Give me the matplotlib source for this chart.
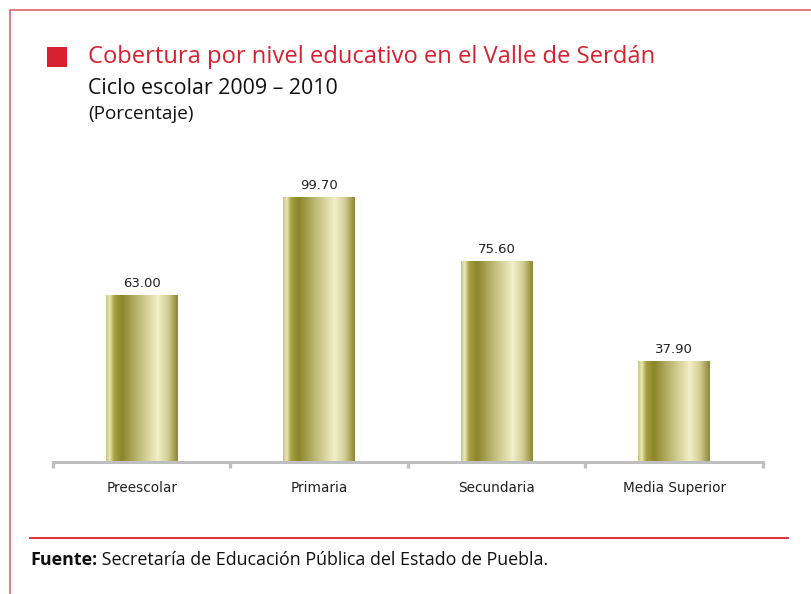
import matplotlib
matplotlib.use("Agg")
import matplotlib.pyplot as plt
import numpy as np
from matplotlib.colors import LinearSegmentedColormap
from matplotlib.patches import Rectangle
from matplotlib.lines import Line2D

categories = ["Preescolar", "Primaria", "Secundaria", "Media Superior"]
values = [63.00, 99.70, 75.60, 37.90]
value_labels = ["63.00", "99.70", "75.60", "37.90"]

title = "Cobertura por nivel educativo en el Valle de Serdán"
subtitle = "Ciclo escolar 2009 – 2010"
unit = "(Porcentaje)"
source_bold = "Fuente:"
source_text = " Secretaría de Educación Pública del Estado de Puebla."

RED = "#d7212f"
GOLD = LinearSegmentedColormap.from_list("gold", [
    (0.00, "#c4c27a"),
    (0.05, "#ecebbc"),
    (0.11, "#a7a244"),
    (0.22, "#8b8529"),
    (0.45, "#bdb975"),
    (0.72, "#f3efc8"),
    (0.86, "#d3ce96"),
    (1.00, "#8c8731"),
])

W, H = 812, 594
fig = plt.figure(figsize=(W / 100, H / 100), dpi=100)

def px(x, y):
    return x / W, 1 - y / H

# page frame
fig.add_artist(Rectangle(px(10, 600), (W + 20) / W, 590 / H, transform=fig.transFigure,
                         fill=False, edgecolor="#e06470", linewidth=1.2))

# title block
sq_x, sq_y = px(47, 67)
fig.add_artist(Rectangle((sq_x, sq_y), 20 / W, 20 / H, transform=fig.transFigure,
                         facecolor=RED, edgecolor="none"))
fig.text(*px(88, 57), title, color=RED, fontsize=17.1, family="Open Sans", va="center", ha="left")
fig.text(*px(88, 88), subtitle, color="#111111", fontsize=15.4, family="Open Sans", va="center", ha="left")
fig.text(*px(88, 114), unit, color="#111111", fontsize=13.6, family="Open Sans", va="center", ha="left")

# bar chart
ax = fig.add_axes([53 / W, 1 - 462 / H, 710 / W, 265 / H])
x = np.arange(len(categories))
bars = ax.bar(x, values, width=0.405, color="none", edgecolor="none", zorder=2)

grad = np.linspace(0, 1, 256).reshape(1, -1)
for b, lab in zip(bars, value_labels):
    x0, y0 = b.get_x(), b.get_y()
    ax.imshow(grad, cmap=GOLD, aspect="auto", interpolation="bicubic",
              extent=(x0, x0 + b.get_width(), y0, y0 + b.get_height()), zorder=2)
    ax.text(x0 + b.get_width() / 2, b.get_height() + 4.5, lab, ha="center", va="center",
            fontsize=9.5, color="#222222", family="DejaVu Sans")
ax.set_xlim(-0.5, len(categories) - 0.5)
ax.set_ylim(0, 100)

for s in ["top", "right", "left"]:
    ax.spines[s].set_visible(False)
ax.spines["bottom"].set_color("#bfbfbf")
ax.spines["bottom"].set_linewidth(2.2)
ax.set_yticks([])
ax.set_xticks(x)
ax.set_xticklabels(categories, fontsize=9.8, color="#222222", family="DejaVu Sans")
ax.tick_params(axis="x", which="major", length=0, pad=14)
ax.set_xticks(np.arange(-0.5, len(categories)), minor=True)
ax.tick_params(axis="x", which="minor", length=4, width=2.4, color="#bfbfbf", direction="out")

# source note
fig.add_artist(Line2D([30 / W, 788 / W], [1 - 538 / H] * 2, transform=fig.transFigure,
                      color=RED, linewidth=1.3))
t = fig.text(*px(30, 560), source_bold, fontsize=12.9, fontweight="bold", family="Open Sans",
             va="center", ha="left", color="#111111")
fig.canvas.draw()
bb = t.get_window_extent()
fig.text(bb.x1 / W, 1 - 560 / H, source_text, fontsize=12.9, family="Open Sans",
         va="center", ha="left", color="#111111")

fig.savefig("out.png", dpi=100)
